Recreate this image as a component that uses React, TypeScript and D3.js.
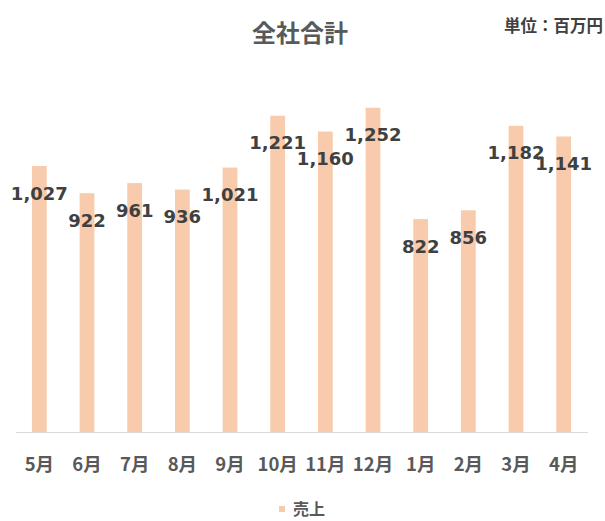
import React, { useRef, useEffect } from 'react';
import * as d3 from 'd3';

const months = ['5月', '6月', '7月', '8月', '9月', '10月', '11月', '12月', '1月', '2月', '3月', '4月'];
const sales = [1027, 922, 961, 936, 1021, 1221, 1160, 1252, 822, 856, 1182, 1141];
const yDomain = [0, 1400];

const W = 605;
const H = 521;

const App = () => {
  const svgRef = useRef<SVGSVGElement>(null);

  useEffect(() => {
    const svg = d3.select(svgRef.current);
    svg.selectAll('*').remove();

    const cjk = '"Noto Sans CJK JP", sans-serif';

    const x = d3.scaleBand()
      .domain(months)
      .range([15.5, 587.5])
      .paddingInner(0.69)
      .paddingOuter(0.345);

    const y = d3.scaleLinear()
      .domain(yDomain)
      .range([432, 432 - 1400 * 0.259]);

    // title + unit
    svg.append('text')
      .attr('x', 300).attr('y', 31)
      .attr('text-anchor', 'middle').attr('dominant-baseline', 'central')
      .attr('font-family', cjk).attr('font-weight', 'bold').attr('font-size', 24)
      .attr('fill', '#595959')
      .text('全社合計');

    svg.append('text')
      .attr('x', 603).attr('y', 25)
      .attr('text-anchor', 'end').attr('dominant-baseline', 'central')
      .attr('font-family', cjk).attr('font-weight', 'bold').attr('font-size', 16.5)
      .attr('fill', '#404040')
      .text('単位：百万円');

    // bars
    svg.selectAll('.bar')
      .data(sales)
      .enter().append('rect')
      .attr('class', 'bar')
      .attr('x', (d, i) => x(months[i])!)
      .attr('y', d => y(d))
      .attr('width', x.bandwidth())
      .attr('height', d => y(0) - y(d))
      .attr('fill', '#F8CBAD');

    // x axis
    const xAxis = svg.append('g')
      .attr('transform', `translate(0,${y(0)})`)
      .call(d3.axisBottom(x).tickSize(0).tickPadding(31));
    xAxis.select('.domain').attr('stroke', '#D9D9D9').attr('stroke-width', 1.2);
    xAxis.selectAll('.tick text')
      .attr('font-family', cjk).attr('font-weight', 'bold').attr('font-size', 18.5)
      .attr('fill', '#595959')
      .attr('dy', '0')
      .attr('dominant-baseline', 'central');

    // value labels
    svg.selectAll('.lbl')
      .data(sales)
      .enter().append('text')
      .attr('class', 'lbl')
      .attr('x', (d, i) => x(months[i])! + x.bandwidth() / 2)
      .attr('y', d => y(d) + 27)
      .attr('text-anchor', 'middle').attr('dominant-baseline', 'central')
      .attr('font-family', '"DejaVu Sans", Verdana, sans-serif')
      .attr('font-weight', 'bold').attr('font-size', 18)
      .attr('fill', '#404040')
      .text(d => d3.format(',')(d));

    // legend
    const lg = svg.append('g').attr('transform', 'translate(279,508)');
    lg.append('rect').attr('x', 0).attr('y', -2).attr('width', 6).attr('height', 6).attr('fill', '#F8CBAD');
    lg.append('text')
      .attr('x', 14).attr('y', 0).attr('dominant-baseline', 'central')
      .attr('font-family', cjk).attr('font-weight', 'bold').attr('font-size', 16)
      .attr('fill', '#595959')
      .text('売上');
  }, []);

  return (
    <svg ref={svgRef} width={W} height={H}
      style={{ position: 'absolute', left: 0, top: 0, background: '#fff' }} />
  );
};

export default App;
